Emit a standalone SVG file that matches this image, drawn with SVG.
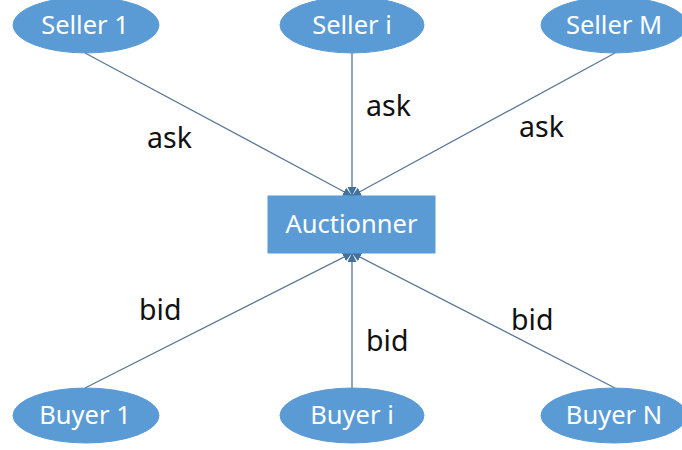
<svg xmlns="http://www.w3.org/2000/svg" width="682" height="450" viewBox="0 0 682 450">
  <style>
    .node { fill: #5b9bd5; stroke: #5b9bd5; stroke-width: 1; }
    .node-text { font-family: "Noto Sans", "Open Sans", sans-serif; font-size: 25.5px; fill: #ffffff; text-anchor: middle; }
    .edge { stroke: #5a7896; stroke-width: 1.3; fill: none; marker-end: url(#arrow); }
    .edge-label { font-family: "Noto Sans", "Open Sans", sans-serif; font-size: 28.5px; fill: #111111; }
  </style>
  <defs>
    <marker id="arrow" viewBox="0 0 10 10" refX="10" refY="5" markerWidth="9" markerHeight="9" markerUnits="userSpaceOnUse" orient="auto">
      <path d="M0,0 L10,5 L0,10 z" fill="#41719c"/>
    </marker>
  </defs>
  <rect width="682" height="450" fill="#ffffff"/>

  <!-- connectors: sellers send asks down, buyers send bids up -->
  <g id="connectors">
    <line class="edge" x1="85" y1="53" x2="352" y2="196"/>
    <line class="edge" x1="352" y1="53" x2="352" y2="196"/>
    <line class="edge" x1="615" y1="53" x2="352" y2="196"/>
    <line class="edge" x1="85" y1="388" x2="352" y2="253"/>
    <line class="edge" x1="352" y1="388" x2="352" y2="253"/>
    <line class="edge" x1="615" y1="388" x2="352" y2="253"/>
    <text class="edge-label" x="147" y="148">ask</text>
    <text class="edge-label" x="366" y="116">ask</text>
    <text class="edge-label" x="519" y="137">ask</text>
    <text class="edge-label" x="139" y="320">bid</text>
    <text class="edge-label" x="366" y="351">bid</text>
    <text class="edge-label" x="511" y="330">bid</text>
  </g>

  <g id="seller-1">
    <ellipse class="node" cx="86" cy="25" rx="73" ry="28"/>
    <text class="node-text" x="85" y="34">Seller 1</text>
  </g>
  <g id="seller-i">
    <ellipse class="node" cx="352" cy="25" rx="72" ry="28"/>
    <text class="node-text" x="352" y="34">Seller i</text>
  </g>
  <g id="seller-m">
    <ellipse class="node" cx="614" cy="25" rx="73" ry="28"/>
    <text class="node-text" x="614" y="34">Seller M</text>
  </g>

  <g id="auctionner">
    <rect class="node" x="268" y="196" width="167" height="57"/>
    <text class="node-text" x="351.5" y="233">Auctionner</text>
  </g>

  <g id="buyer-1">
    <ellipse class="node" cx="86" cy="415.5" rx="73" ry="27.5"/>
    <text class="node-text" x="85" y="424">Buyer 1</text>
  </g>
  <g id="buyer-i">
    <ellipse class="node" cx="352" cy="415.5" rx="72" ry="27.5"/>
    <text class="node-text" x="352" y="424">Buyer i</text>
  </g>
  <g id="buyer-n">
    <ellipse class="node" cx="614" cy="415.5" rx="73" ry="27.5"/>
    <text class="node-text" x="614" y="424">Buyer N</text>
  </g>
</svg>
